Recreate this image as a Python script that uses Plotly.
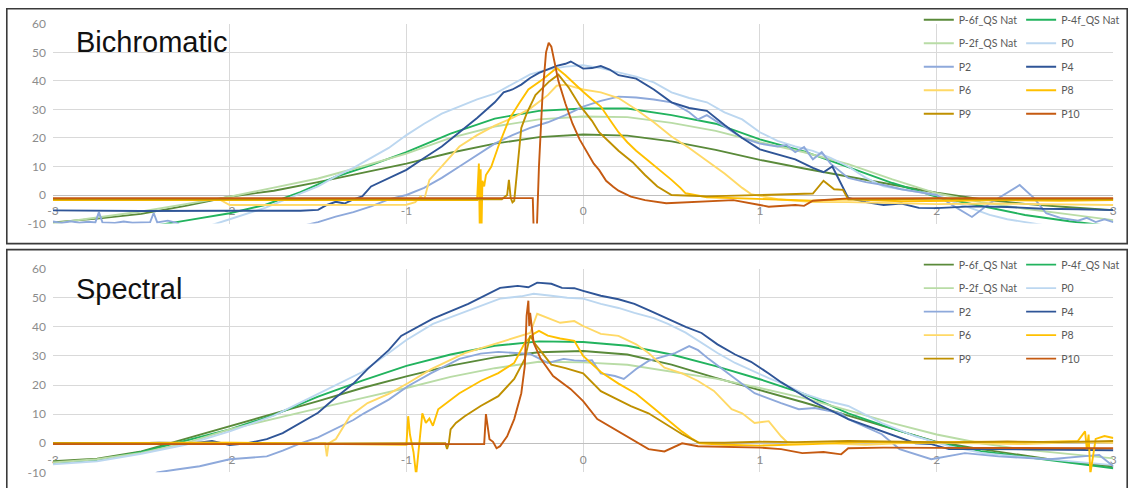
import plotly.graph_objects as go

# ---------------- data: Bichromatic (top) ----------------
bi_p6f_x = [-3, -2.75, -2.5, -2.25, -2, -1.9, -1.75, -1.5, -1.25, -1, -0.75, -0.5, -0.25, 0, 0.25, 0.5, 0.75, 1, 1.25, 1.5, 1.75, 2, 2.25, 2.5, 2.75, 3]
bi_p6f_y = [-9.6, -8.3, -6.6, -3.8, -0.6, 0.3, 1.5, 4.5, 7.8, 11, 14.8, 18, 20.3, 21.2, 20.8, 18.8, 15.8, 12.3, 9.3, 6.5, 3.8, 0.8, -1.5, -3.1, -4.3, -5.3]

bi_p4f_x = [-3, -2.5, -2.25, -2, -1.8, -1.6, -1.4, -1.2, -1, -0.75, -0.5, -0.25, 0, 0.25, 0.5, 0.75, 1, 1.25, 1.5, 1.75, 2, 2.25, 2.5, 2.75, 3]
bi_p4f_y = [-14, -11.5, -9, -6.4, -3.5, 1, 6.4, 10.5, 15, 21.5, 26.8, 29.5, 30.3, 30.3, 28, 25, 19.5, 15.3, 9.8, 4.2, -0.6, -3.8, -7, -9.2, -11]

bi_p2f_x = [-3, -2.75, -2.5, -2.25, -2, -1.75, -1.5, -1.25, -1, -0.75, -0.5, -0.25, 0, 0.25, 0.5, 0.75, 1, 1.25, 1.5, 1.75, 2, 2.25, 2.5, 2.75, 3]
bi_p2f_y = [-10, -8, -5.8, -3.2, -0.6, 2.6, 5.8, 10, 14.5, 20, 24, 26.5, 27.5, 27.3, 25.3, 22.5, 18.5, 15, 10.8, 5.5, 0.6, -2.5, -4.8, -6.8, -8.8]

bi_p0_x = [-2.3, -2.1, -2.0, -1.9, -1.8, -1.7, -1.6, -1.5, -1.4, -1.3, -1.2, -1.1, -1.0, -0.9, -0.8, -0.7, -0.6, -0.5, -0.4, -0.3, -0.2, -0.1, 0, 0.1, 0.2, 0.3, 0.4, 0.5, 0.6, 0.7, 0.8, 0.9, 1.0, 1.1, 1.2, 1.3, 1.4, 1.5, 1.6, 1.7, 1.8, 1.9, 2.0, 2.1, 2.2, 2.3, 2.4, 2.5, 2.6, 2.8, 3.0]
bi_p0_y = [-12, -10.5, -8.5, -6.5, -4.5, -2, 0.5, 3, 6.5, 9.5, 13, 16.5, 21, 25, 28.5, 31, 33.5, 35.5, 39, 42.3, 44, 45, 45.5, 44.5, 43, 41.5, 39.5, 36, 34, 32.5, 29, 26.5, 22, 19, 17, 15.5, 13, 10, 6, 3, 2, 1, 0, -2.5, -4.8, -7, -8.5, -9.5, -10.5, -11, -10.5]

bi_p2_x = [-3, -2.95, -2.9, -2.85, -2.8, -2.76, -2.74, -2.72, -2.65, -2.6, -2.55, -2.45, -2.43, -2.41, -2.35, -2.3, -2.25, -1.6, -1.5, -1.4, -1.3, -1.2, -1.1, -1.0, -0.9, -0.8, -0.7, -0.6, -0.5, -0.4, -0.3, -0.2, -0.1, 0, 0.1, 0.2, 0.3, 0.4, 0.5, 0.6, 0.65, 0.7, 0.8, 0.9, 1.0, 1.1, 1.15, 1.2, 1.25, 1.3, 1.35, 1.4, 1.5, 1.6, 1.7, 1.8, 1.9, 2.0, 2.1, 2.2, 2.3, 2.4, 2.47, 2.55, 2.62, 2.7, 2.8, 2.85, 2.9, 2.95, 3.0]
bi_p2_y = [-9.3, -9.8, -9.2, -9.7, -9.4, -9.6, -6, -9.6, -9.8, -9.3, -9.7, -9.5, -6.3, -9.6, -9, -9.8, -12, -11, -9.5, -7.6, -6, -4, -1.5, 0, 2.5, 6, 10, 14, 18, 21, 23.5, 25.5, 28, 31, 33, 34.5, 34.2, 33.5, 32.5, 29, 26.5, 28, 24, 20, 18, 17, 17.5, 15, 16.8, 12.5, 15, 11, 6, 4.5, 3.5, 2, 1, 0, -4, -7.7, -3, 1, 3.5, -1, -6.4, -8, -9, -8, -9.5, -8.5, -9.5]

bi_p4_x = [-3, -2.5, -2.0, -1.6, -1.5, -1.45, -1.4, -1.35, -1.3, -1.25, -1.2, -1.15, -1.1, -1.05, -1.0, -0.9, -0.8, -0.7, -0.6, -0.5, -0.45, -0.4, -0.35, -0.3, -0.25, -0.2, -0.15, -0.1, -0.07, 0, 0.05, 0.1, 0.15, 0.2, 0.3, 0.4, 0.5, 0.6, 0.7, 0.8, 0.9, 1.0, 1.1, 1.2, 1.3, 1.36, 1.41, 1.47, 1.5, 1.6, 1.7, 1.8, 1.9, 2.0, 2.2, 2.4, 2.6, 2.8, 3.0]
bi_p4_y = [-5.4, -5.6, -5.5, -5.5, -5.2, -3.5, -2.4, -3, -1.5, -0.5, 3, 4.5, 6, 7.5, 8.8, 13, 17, 22, 27, 32.5, 36, 37, 38.7, 41, 42.8, 44, 45.3, 46, 46.8, 44.3, 44.5, 45.2, 44, 42, 40.8, 37, 32.5, 30.5, 29.5, 24.5, 20, 16, 14.2, 12.5, 9.5, 8, 10, 3, -1, -2.5, -3.5, -3, -4.5, -4.6, -4, -4.2, -4.8, -5, -5.3]

bi_p6_x = [-3, -2.05, -2.0, -1.5, -1.0, -0.95, -0.92, -0.9, -0.87, -0.8, -0.7, -0.6, -0.5, -0.4, -0.3, -0.2, -0.15, -0.1, 0, 0.1, 0.2, 0.3, 0.4, 0.5, 0.6, 0.7, 0.8, 0.9, 0.95, 1.1, 1.3, 1.5, 1.8, 2.0, 2.3, 2.6, 3.0]
bi_p6_y = [-1.8, -1.8, -3.5, -3.5, -3.4, -2.5, -0.5, -1.8, 5.3, 10, 17, 21, 24.3, 27, 30.3, 35, 38.3, 38.7, 37, 36, 34, 30, 25.5, 20.5, 16.5, 12, 7.5, 2.5, 0.3, -1.5, -2.5, -2.5, -3, -3.2, -3, -3.3, -3.5]

bi_p8_x = [-3, -2.0, -1.0, -0.6, -0.59, -0.585, -0.58, -0.575, -0.57, -0.56, -0.55, -0.52, -0.48, -0.42, -0.36, -0.31, -0.23, -0.18, -0.15, -0.1, -0.05, 0, 0.05, 0.1, 0.15, 0.2, 0.25, 0.3, 0.35, 0.4, 0.45, 0.5, 0.55, 0.58, 0.7, 0.9, 1.1, 1.3, 1.5, 1.8, 2.1, 2.4, 2.7, 3.0]
bi_p8_y = [-1.8, -1.8, -1.9, -1.8, 11, -12, 9, -12, 5, 3, 7, 9.9, 17, 26.4, 32.3, 37, 40.5, 43, 44.5, 42, 39, 36.2, 33.5, 31, 26.5, 22, 18.5, 15.5, 13, 10.5, 8, 5.3, 2.5, 0.6, -0.8, -1.2, -1.8, -2, -1.5, -2.2, -2, -1.8, -2, -1.8]

bi_p9_x = [-3, -2, -1, -0.46, -0.43, -0.42, -0.41, -0.4, -0.39, -0.35, -0.32, -0.27, -0.19, -0.14, -0.08, -0.02, 0.05, 0.09, 0.15, 0.2, 0.28, 0.35, 0.42, 0.5, 0.7, 0.9, 1.1, 1.3, 1.36, 1.42, 1.47, 1.5, 1.7, 2.0, 2.3, 2.6, 3.0]
bi_p9_y = [-1.5, -1.5, -1.6, -1.5, 0, 5.3, -1, -2.6, -2, 23.5, 28.5, 35, 39.9, 42.2, 37.5, 31.5, 26, 22, 18.5, 15.5, 11.5, 7, 3, 0, -0.5, -0.2, 0, 0.5, 5, 2, 1.8, -1.5, -1.5, -1.3, -1.5, -1.4, -1.5]

bi_p10_x = [-3, -2, -1, -0.285, -0.28, -0.262, -0.25, -0.23, -0.21, -0.195, -0.18, -0.16, -0.14, -0.1, -0.06, -0.02, 0.02, 0.06, 0.09, 0.13, 0.17, 0.2, 0.27, 0.35, 0.47, 0.66, 0.85, 1.0, 1.05, 1.2, 1.25, 1.3, 1.4, 1.5, 2.0, 2.5, 3.0]
bi_p10_y = [-1.1, -1.1, -1.1, -1.1, -12, -12, 10, 35, 50, 53.4, 52, 46, 40, 32, 25, 19.5, 15, 11, 8.8, 5, 2.9, 1.5, -0.6, -1.8, -2.9, -2.4, -1.8, -3.5, -4.1, -3.5, -3.8, -2, -1.5, -1.2, -1.1, -1.2, -1.1]

# ---------------- data: Spectral (bottom) ----------------
sp_p6f_x = [-3, -2.75, -2.5, -2.25, -2, -1.75, -1.5, -1.25, -1, -0.75, -0.5, -0.25, 0, 0.25, 0.5, 0.75, 1, 1.25, 1.5, 1.75, 2, 2.25, 2.5, 2.75, 3]
sp_p6f_y = [-6.2, -5.3, -2.8, 1.5, 5.9, 10, 14.5, 19, 23, 26.7, 29.5, 31.3, 31.7, 30.5, 27, 22.5, 18.3, 14, 9.5, 5, 0.5, -2, -4.3, -6.5, -8]

sp_p4f_x = [-3, -2.75, -2.5, -2.25, -2, -1.75, -1.5, -1.25, -1, -0.75, -0.5, -0.25, 0, 0.25, 0.5, 0.75, 1, 1.25, 1.5, 1.75, 2, 2.25, 2.5, 2.75, 3]
sp_p4f_y = [-6.9, -5.7, -3, 1, 4.8, 9.7, 16, 21.5, 26.6, 30.5, 33.5, 35, 34.8, 33.5, 30.5, 26.5, 22, 17, 10.3, 5, 0.3, -2.7, -4.7, -6.5, -8.6]

sp_p2f_x = [-3, -2.75, -2.5, -2.25, -2, -1.75, -1.5, -1.25, -1, -0.75, -0.5, -0.25, 0, 0.25, 0.5, 0.75, 1, 1.25, 1.5, 1.75, 2, 2.25, 2.5, 2.75, 3]
sp_p2f_y = [-6.6, -5.5, -3.3, 0, 4.8, 8.5, 12, 15.5, 19, 22.8, 25.8, 28, 27.8, 27, 24.6, 22.2, 19, 15.5, 11.3, 6.9, 3, 0, -2.2, -3.8, -5.2]

sp_p0_x = [-3, -2.75, -2.5, -2.25, -2, -1.75, -1.5, -1.25, -1.1, -1.0, -0.85, -0.65, -0.47, -0.35, -0.28, -0.18, -0.09, 0, 0.1, 0.2, 0.29, 0.4, 0.48, 0.58, 0.67, 0.76, 0.86, 0.95, 1.05, 1.15, 1.24, 1.35, 1.5, 1.69, 1.88, 2.07, 2.26, 2.45, 2.64, 2.92, 3.0]
sp_p0_y = [-7.2, -6.2, -3.6, -0.5, 4.1, 9.5, 17, 24.5, 31, 35.5, 41, 45.5, 49.7, 50.5, 51.4, 50.7, 50, 49.7, 47.9, 46.5, 44.8, 43, 41, 38, 34.5, 31, 27.6, 25, 22.4, 20, 17.2, 15, 12.8, 6.9, 2.4, -1, -3.4, -4.5, -5.5, -6.9, -7.5]

sp_p2_x = [-2.45, -2.41, -2.3, -2.17, -2.0, -1.9, -1.79, -1.7, -1.6, -1.5, -1.41, -1.3, -1.24, -1.1, -0.99, -0.86, -0.7, -0.58, -0.48, -0.4, -0.3, -0.2, -0.11, -0.05, 0, 0.05, 0.1, 0.18, 0.23, 0.3, 0.37, 0.52, 0.6, 0.65, 0.71, 0.84, 0.97, 1.12, 1.22, 1.31, 1.46, 1.5, 1.69, 1.79, 1.97, 2.16, 2.35, 2.64, 2.92, 3.0]
sp_p2_y = [-12, -10, -9, -7.9, -5.5, -5, -4.5, -2.5, 0, 2, 4.8, 8, 10.3, 15, 19.7, 24.1, 29, 30.8, 31.4, 31, 30.7, 27.6, 29, 28.5, 28.3, 28.5, 24, 23.1, 22.1, 25.5, 28.3, 31, 33.4, 32, 29, 23.1, 17.2, 13.8, 11.7, 12.1, 10.3, 8.3, 3.1, -2, -5.5, -3.4, -4.5, -5.5, -4, -7.9]

sp_p4_x = [-3, -2.7, -2.4, -2.2, -2.1, -2.05, -2.0, -1.9, -1.79, -1.7, -1.6, -1.5, -1.41, -1.3, -1.22, -1.1, -1.03, -0.85, -0.65, -0.47, -0.37, -0.31, -0.26, -0.18, -0.12, -0.05, 0, 0.1, 0.2, 0.29, 0.38, 0.48, 0.58, 0.67, 0.76, 0.86, 0.95, 1.05, 1.12, 1.24, 1.31, 1.5, 1.69, 1.88, 1.97, 2.07, 2.3, 2.6, 3.0]
sp_p4_y = [0.1, -0.2, 0.2, 0, 0.8, 0.2, -0.6, 0, 1.4, 3.5, 6.9, 10.5, 15.2, 20.5, 25.5, 32, 36.9, 42.8, 47.9, 53.4, 54.1, 53.6, 55.2, 54.8, 53.4, 53.3, 52.4, 50.7, 49.5, 47.9, 45.5, 42.8, 40, 37.9, 34, 30.5, 28, 24, 21, 16.5, 14, 8.3, 4.1, 0, -0.3, -2, -2, -2.2, -2.4]

sp_p6_x = [-3, -2.2, -1.46, -1.45, -1.44, -1.4, -1.32, -1.22, -1.1, -0.99, -0.86, -0.67, -0.48, -0.3, -0.26, -0.13, -0.05, 0, 0.1, 0.2, 0.3, 0.37, 0.46, 0.56, 0.65, 0.74, 0.84, 0.9, 0.97, 1.05, 1.12, 1.16, 1.3, 1.6, 1.9, 2.2, 2.5, 2.8, 3.0]
sp_p6_y = [0, 0.2, 0, -4.5, 0, 1.4, 9.3, 13.8, 17, 20.7, 25.5, 31, 34.5, 37.9, 44.5, 41.4, 42, 40.3, 37.6, 36.9, 34, 31, 26, 24, 21.4, 18, 11.7, 10.3, 7, 7.6, 2.4, 0, 0.2, -0.5, 0.3, 0, -0.3, 0.4, 0.2]

sp_p8_x = [-3, -2, -1.0, -0.99, -0.98, -0.96, -0.945, -0.93, -0.91, -0.89, -0.87, -0.85, -0.82, -0.7, -0.58, -0.48, -0.39, -0.33, -0.28, -0.25, -0.2, -0.13, -0.05, 0, 0.1, 0.2, 0.3, 0.4, 0.46, 0.56, 0.62, 0.66, 0.8, 1.0, 1.3, 1.6, 1.9, 2.2, 2.5, 2.8, 2.84, 2.85, 2.86, 2.87, 2.9, 2.95, 3.0]
sp_p8_y = [0, 0.2, -0.5, 9.3, 3, -3, -11, -2, 10.3, 7, 8.5, 6, 11.7, 17.2, 21.4, 24.1, 27.6, 34.5, 37.6, 38.6, 37, 36, 35.2, 30, 24.5, 20.5, 17, 12, 9, 4, 1.4, 0, -0.5, -0.8, -0.3, 0.5, 0.2, 0.5, 0.3, 0.8, 4.1, -2, 3, -10.5, 1.5, 2.5, 1.8]

sp_p9_x = [-3, -2, -1, -0.78, -0.77, -0.76, -0.75, -0.72, -0.67, -0.58, -0.48, -0.39, -0.33, -0.31, -0.3, -0.27, -0.22, -0.18, -0.1, 0, 0.1, 0.18, 0.27, 0.37, 0.46, 0.56, 0.65, 0.8, 1.0, 1.2, 1.5, 1.8, 2.1, 2.4, 2.7, 3.0]
sp_p9_y = [0, -0.2, 0, 0, -2, 0, 4.8, 7, 9.3, 12.8, 16.2, 22.1, 29, 35, 37, 34, 30, 27, 25.8, 24, 17.9, 15.5, 12.8, 10.3, 6.9, 3.1, 0.3, 0.2, 0.5, 0.4, 0.8, 0.5, 0.3, 0.6, 0.4, 0.8]

sp_p10_x = [-3, -2, -1, -0.56, -0.55, -0.54, -0.53, -0.51, -0.49, -0.47, -0.43, -0.39, -0.35, -0.33, -0.32, -0.31, -0.305, -0.3, -0.28, -0.24, -0.17, -0.07, 0, 0.08, 0.18, 0.27, 0.37, 0.46, 0.56, 0.65, 0.84, 1.0, 1.12, 1.24, 1.36, 1.46, 1.5, 1.7, 2.0, 2.5, 3.0]
sp_p10_y = [-0.3, -0.3, -0.4, -0.3, 10, 5, 1.4, 0.5, -1.7, -1, 2.4, 8.3, 17.2, 26.6, 43.8, 49, 40.3, 44.8, 34.5, 29, 23.1, 18.6, 14.5, 8.3, 4.8, 1.4, -2, -2.8, 0, -1, -1.2, -1.5, -2, -3.4, -3, -3.8, -1.7, -1.5, -1.6, -1.7, -1.7]

series_names = ["P-6f_QS Nat", "P-4f_QS Nat", "P-2f_QS Nat", "P0", "P2", "P4", "P6", "P8", "P9", "P10"]
series_colors = ["#5A8A3A", "#22B35E", "#B9DCA6", "#BCD7F0", "#8EA9DB", "#2F5597", "#FFD966", "#FFC000", "#BF9000", "#C55A11"]
x_ticks = [-3, -2, -1, 0, 1, 2, 3]
x_tick_text = ["-3", "-2", "-1", "0", "1", "2", "3"]
y_ticks = [-10, 0, 10, 20, 30, 40, 50, 60]
y_tick_text = ["-10", "0", "10", "20", "30", "40", "50", "60"]
panel_titles = ["Bichromatic", "Spectral"]

top_data = [(bi_p6f_x, bi_p6f_y), (bi_p4f_x, bi_p4f_y), (bi_p2f_x, bi_p2f_y), (bi_p0_x, bi_p0_y),
            (bi_p2_x, bi_p2_y), (bi_p4_x, bi_p4_y), (bi_p6_x, bi_p6_y), (bi_p8_x, bi_p8_y),
            (bi_p9_x, bi_p9_y), (bi_p10_x, bi_p10_y)]
bot_data = [(sp_p6f_x, sp_p6f_y), (sp_p4f_x, sp_p4f_y), (sp_p2f_x, sp_p2f_y), (sp_p0_x, sp_p0_y),
            (sp_p2_x, sp_p2_y), (sp_p4_x, sp_p4_y), (sp_p6_x, sp_p6_y), (sp_p8_x, sp_p8_y),
            (sp_p9_x, sp_p9_y), (sp_p10_x, sp_p10_y)]

# Figure fills the page (body margin removed). The photographed picture maps a
# page pixel p to about S*p + O, so target picture positions are converted back.
W, H = 1132, 488
SX, OX = 0.988, 8.2
SY, OY = 0.966, 8.2


def pxx(pic_x):
    return ((pic_x - OX) / SX) / W


def pxy(pic_y):
    return 1 - ((pic_y - OY) / SY) / H


X_DOM = [pxx(55), pxx(1112)]
DOMS = [[pxy(223), pxy(24)], [pxy(471), pxy(268)]]
YR = [-10, 60]

FONT = "Lato, 'Open Sans', sans-serif"
TICK_COLOR = "#8C8C8C"
GRID = "#D9D9D9"

fig = go.Figure()

legend_names = [["legend", "legend2"], ["legend3", "legend4"]]

for p, data in enumerate([top_data, bot_data]):
    xa = "x" if p == 0 else "x2"
    ya = "y" if p == 0 else "y2"
    for i, (xs, ys) in enumerate(data):
        fig.add_trace(go.Scatter(
            x=xs, y=ys, mode="lines", name=series_names[i],
            line=dict(color=series_colors[i], width=1.9),
            xaxis=xa, yaxis=ya,
            legend=legend_names[p][i % 2],
            legendgroup=f"{p}_{i}",
            hoverinfo="skip",
        ))


def zero_pos(dom):
    return dom[0] + (0 - YR[0]) / (YR[1] - YR[0]) * (dom[1] - dom[0])


axis_common_x = dict(
    range=[-3, 3], tickvals=x_ticks, ticktext=x_tick_text, showgrid=True, gridcolor=GRID, gridwidth=1,
    zeroline=False, ticks="", showline=True, linecolor="#BFBFBF", linewidth=1,
    tickfont=dict(family=FONT, size=12, color=TICK_COLOR), anchor="free",
    layer="below traces", ticklabelstandoff=5, fixedrange=True,
)
axis_common_y = dict(
    range=YR, tickvals=y_ticks, ticktext=y_tick_text, showgrid=True, gridcolor=GRID, gridwidth=1,
    zeroline=False, ticks="", showline=False,
    tickfont=dict(family=FONT, size=12, color=TICK_COLOR), ticklabelstandoff=6,
    fixedrange=True,
)

fig.update_layout(
    xaxis=dict(domain=X_DOM, position=zero_pos(DOMS[0]), **axis_common_x),
    yaxis=dict(domain=DOMS[0], anchor="x", **axis_common_y),
    xaxis2=dict(domain=X_DOM, position=zero_pos(DOMS[1]), **axis_common_x),
    yaxis2=dict(domain=DOMS[1], anchor="x2", **axis_common_y),
)

# legend boxes: the first entry sits ~15 page px below the box top,
# the line symbol starts ~7 px and the text ~40 px right of the box edge
leg_font = dict(family=FONT, size=10.5, color="#595959")
col_x = [pxx(925) - 7 / W, pxx(1027) - 7 / W]
row_top = [pxy(20) + 15 / H, pxy(264) + 15 / H]
for p in range(2):
    for c in range(2):
        fig.update_layout({legend_names[p][c]: dict(
            x=col_x[c], y=row_top[p], xanchor="left", yanchor="top",
            bgcolor="rgba(0,0,0,0)", font=leg_font, tracegroupgap=4.5,
            itemwidth=30, orientation="v", itemclick=False, itemdoubleclick=False,
        )})

title_y = [42, 288]
for p in range(2):
    fig.add_annotation(
        text=panel_titles[p], xref="paper", yref="paper",
        x=pxx(76), y=pxy(title_y[p]), xanchor="left", yanchor="middle",
        showarrow=False, font=dict(family="'Liberation Sans', Arial, sans-serif", size=29, color="#111111"),
    )

EDGE = 0.8
fig.add_shape(type="rect", xref="paper", yref="paper", x0=EDGE / W, x1=1 - EDGE / W, y0=pxy(243), y1=1 - EDGE / H,
              line=dict(color="#3A3A3A", width=1.6), fillcolor="rgba(0,0,0,0)", layer="above")
fig.add_shape(type="rect", xref="paper", yref="paper", x0=EDGE / W, x1=1 - EDGE / W, y0=-0.05, y1=pxy(249),
              line=dict(color="#3A3A3A", width=1.6), fillcolor="rgba(0,0,0,0)", layer="above")

fig.update_layout(
    width=W, height=H, margin=dict(l=0, r=0, t=0, b=0),
    paper_bgcolor="white", plot_bgcolor="white", showlegend=True,
)

fig.write_html(
    "out.html",
    config={"displayModeBar": False},
    post_script="document.body.style.margin='0';document.body.style.overflow='hidden';",
)
